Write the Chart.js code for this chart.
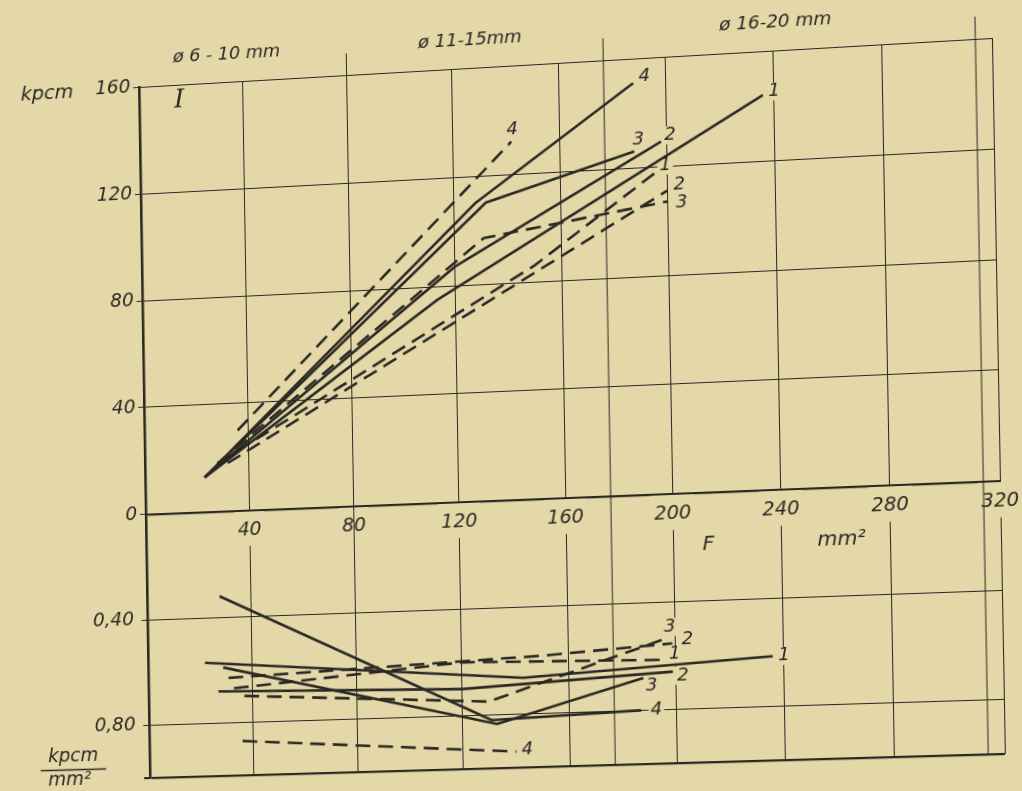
<!DOCTYPE html>
<html lang="de">
<head>
<meta charset="utf-8">
<title>kpcm - F</title>
<script src="https://cdn.jsdelivr.net/npm/chart.js@4.4.1/dist/chart.umd.min.js"></script>
<style>
  html, body { margin: 0; padding: 0; background: #e4d8a8; overflow: hidden; }
  #hoja { width: 1022px; height: 791px; transform-origin: 0 0; }
  canvas { display: block; }
</style>
</head>
<body>
<div id="hoja"><canvas id="grafica" width="1022" height="791"></canvas></div>
<script>
const fondo = "#e4d8a8";
const tinta = "#2a2823";
const fuente = '"DejaVu Sans", sans-serif';

// eje F (mm²)
const ticksF = [0, 40, 80, 120, 160, 200, 240, 280, 320];
const limitesDiametro = [80, 177, 314];
const textosDiametro = ["ø 6 - 10 mm", "ø 11-15mm", "ø 16-20 mm"];
const posDiametro = [34, 127, 241];

// panel superior: kpcm
const ticksKpcm = [0, 40, 80, 120, 160];
const sup1 = [[23, 13], [113, 75], [236, 144]];
const sup2 = [[23, 13], [120, 87], [198, 129]];
const sup3 = [[23, 13], [132, 110], [188, 126]];
const sup4 = [[23, 13], [128, 110], [188, 151]];
const sup1d = [[28, 18], [150, 86], [196, 118]];
const sup2d = [[32, 18], [200, 111]];
const sup3d = [[28, 18], [131, 97], [200, 107]];
const sup4d = [[36, 30], [142, 132]];

// panel inferior: kpcm/mm²
const ticksEsp = [0.4, 0.8, 1.0];
const inf1 = [[22, 0.57], [143, 0.665], [236, 0.615]];
const inf2 = [[27, 0.68], [120, 0.70], [199, 0.66]];
const inf3 = [[29, 0.59], [133, 0.835], [188, 0.68]];
const inf4 = [[28, 0.32], [131, 0.82], [187, 0.80]];
const inf1d = [[33, 0.67], [120, 0.60], [196, 0.615]];
const inf2d = [[31, 0.63], [150, 0.585], [199, 0.555]];
const inf3d = [[37, 0.70], [130, 0.75], [197, 0.535]];
const inf4d = [[36, 0.87], [140, 0.94]];

// la hoja de la foto esta torcida: esquinas del area del grafico (arriba izq, arriba der, abajo der, abajo izq)
const esquinasFoto = [[139, 87], [992, 38], [1005, 754], [150, 778]];

function serie(puntos, eje, discontinua, etiqueta, desplazamiento) {
    return {
        data: puntos.map(p => ({ x: p[0], y: p[1] })),
        yAxisID: eje,
        borderColor: tinta,
        borderWidth: 2.6,
        borderDash: discontinua ? [15, 8] : [],
        pointRadius: 0,
        tension: 0,
        fill: false,
        etiqueta: etiqueta,
        desplazamiento: desplazamiento
    };
}

const series = [
    serie(sup1, "y", false, "1", [11, -3]),
    serie(sup2, "y", false, "2", [9, -6]),
    serie(sup3, "y", false, "3", [4, -11]),
    serie(sup4, "y", false, "4", [11, -6]),
    serie(sup1d, "y", true, "1", [9, -6]),
    serie(sup2d, "y", true, "2", [12, -5]),
    serie(sup3d, "y", true, "3", [14, 2]),
    serie(sup4d, "y", true, "4", [1, -12]),
    serie(inf1, "y2", false, "1", [11, 0]),
    serie(inf2, "y2", false, "2", [10, 4]),
    serie(inf3, "y2", false, "3", [8, 8]),
    serie(inf4, "y2", false, "4", [15, 0]),
    serie(inf1d, "y2", true, "1", [10, -5]),
    serie(inf2d, "y2", true, "2", [15, -3]),
    serie(inf3d, "y2", true, "3", [3, -11]),
    serie(inf4d, "y2", true, "4", [11, -2])
];

function posEtiqueta(chart, i) {
    const ds = chart.data.datasets[i];
    const meta = chart.getDatasetMeta(i);
    const ult = meta.data[meta.data.length - 1];
    return { x: ult.x + ds.desplazamiento[0], y: ult.y + ds.desplazamiento[1] };
}

const anotaciones = {
    id: "anotaciones",
    beforeDatasetsDraw(chart) {
        const { ctx, chartArea, scales } = chart;
        ctx.save();
        ctx.strokeStyle = tinta;
        ctx.lineWidth = 1;
        limitesDiametro.forEach(f => {
            const px = scales.x.getPixelForValue(f);
            ctx.beginPath();
            ctx.moveTo(px, chartArea.top - 22);
            ctx.lineTo(px, chartArea.bottom);
            ctx.stroke();
        });
        // hueco en la cuadricula detras de los numeros
        ctx.font = `italic 18px ${fuente}`;
        ctx.fillStyle = fondo;
        chart.data.datasets.forEach((ds, i) => {
            const p = posEtiqueta(chart, i);
            const w = ctx.measureText(ds.etiqueta).width;
            ctx.fillRect(p.x - w / 2 - 2, p.y - 9, w + 4, 18);
        });
        ctx.restore();
    },
    afterDatasetsDraw(chart) {
        const { ctx, chartArea, scales } = chart;
        ctx.save();
        ctx.fillStyle = tinta;
        ctx.strokeStyle = tinta;
        ctx.textAlign = "center";
        ctx.textBaseline = "middle";
        ctx.font = `italic 18px ${fuente}`;
        chart.data.datasets.forEach((ds, i) => {
            const p = posEtiqueta(chart, i);
            ctx.fillText(ds.etiqueta, p.x, p.y);
        });

        textosDiametro.forEach((t, i) => {
            ctx.fillText(t, scales.x.getPixelForValue(posDiametro[i]), chartArea.top - 28);
        });

        const cero = scales.y.getPixelForValue(0);
        ctx.textBaseline = "alphabetic";
        ctx.font = `italic 20px ${fuente}`;
        ctx.fillText("F", scales.x.getPixelForValue(213), cero + 57);
        ctx.fillText("mm²", scales.x.getPixelForValue(262), cero + 57);

        ctx.font = `italic 26px "DejaVu Serif", serif`;
        ctx.textBaseline = "middle";
        ctx.fillText("I", scales.x.getPixelForValue(15.5), scales.y.getPixelForValue(154));

        ctx.font = `italic 20px ${fuente}`;
        ctx.textAlign = "right";
        ctx.fillText("kpcm", chartArea.left - 68, scales.y.getPixelForValue(160) + 2);

        // unidad del panel inferior
        const p08 = scales.y2.getPixelForValue(0.8);
        const cx = chartArea.left - 79;
        ctx.font = `italic 19px ${fuente}`;
        ctx.textAlign = "center";
        ctx.fillText("kpcm", cx, p08 + 30);
        ctx.lineWidth = 1.5;
        ctx.beginPath();
        ctx.moveTo(cx - 34, p08 + 43);
        ctx.lineTo(cx + 34, p08 + 43);
        ctx.stroke();
        ctx.fillText("mm²", cx - 4, p08 + 54);
        ctx.restore();
    }
};

const letra = { family: fuente, size: 19, style: "italic" };

const grafica = new Chart(document.getElementById("grafica"), {
    type: "line",
    data: { datasets: series },
    options: {
        responsive: false,
        animation: false,
        layout: { padding: { top: 66, right: 28, bottom: 21, left: 0 } },
        plugins: {
            legend: { display: false },
            tooltip: { enabled: false }
        },
        scales: {
            x: {
                type: "linear",
                position: { y: 0 },
                min: 0,
                max: 320,
                afterBuildTicks: s => { s.ticks = ticksF.map(v => ({ value: v })); },
                ticks: {
                    callback: v => v === 0 ? "" : v,
                    color: tinta,
                    font: letra,
                    padding: 9,
                    maxRotation: 0,
                    autoSkip: false,
                    showLabelBackdrop: true,
                    backdropColor: fondo,
                    backdropPadding: { top: 8, bottom: 4, left: 3, right: 3 }
                },
                grid: { color: tinta, lineWidth: 1, drawTicks: false },
                border: { color: tinta, width: 2.2 }
            },
            // el eje apilado que se declara primero queda abajo
            y2: {
                type: "linear",
                position: "left",
                stack: "paneles",
                stackWeight: 268,
                reverse: true,
                min: 0,
                max: 1,
                afterBuildTicks: s => { s.ticks = ticksEsp.map(v => ({ value: v })); },
                afterFit: s => { s.width = 144; },
                ticks: {
                    callback: v => v === 1 ? "" : v.toFixed(2).replace(".", ","),
                    color: tinta,
                    font: letra,
                    padding: 8
                },
                grid: {
                    color: tinta,
                    lineWidth: c => (c.tick && c.tick.value === 1) ? 2.2 : 1,
                    tickLength: 6
                },
                border: { color: tinta, width: 2.6 }
            },
            y: {
                type: "linear",
                position: "left",
                stack: "paneles",
                stackWeight: 436,
                min: 0,
                max: 160,
                afterBuildTicks: s => { s.ticks = ticksKpcm.map(v => ({ value: v })); },
                afterFit: s => { s.width = 144; },
                ticks: { color: tinta, font: letra, padding: 3 },
                grid: { color: tinta, lineWidth: 1, tickLength: 6 },
                border: { color: tinta, width: 2.6 }
            }
        }
    },
    plugins: [anotaciones]
});

// homografia del area del grafico hacia las esquinas de la foto
function homografia(origen, destino) {
    const A = [], b = [];
    for (let i = 0; i < 4; i++) {
        const [x, y] = origen[i], [u, v] = destino[i];
        A.push([x, y, 1, 0, 0, 0, -x * u, -y * u]); b.push(u);
        A.push([0, 0, 0, x, y, 1, -x * v, -y * v]); b.push(v);
    }
    for (let c = 0; c < 8; c++) {
        let p = c;
        for (let r = c + 1; r < 8; r++) if (Math.abs(A[r][c]) > Math.abs(A[p][c])) p = r;
        [A[c], A[p]] = [A[p], A[c]];
        [b[c], b[p]] = [b[p], b[c]];
        for (let r = 0; r < 8; r++) {
            if (r === c) continue;
            const f = A[r][c] / A[c][c];
            for (let k = c; k < 8; k++) A[r][k] -= f * A[c][k];
            b[r] -= f * b[c];
        }
    }
    return b.map((v, i) => v / A[i][i]);
}

const area = grafica.chartArea;
const h = homografia(
    [[area.left, area.top], [area.right, area.top], [area.right, area.bottom], [area.left, area.bottom]],
    esquinasFoto
);
document.getElementById("hoja").style.transform =
    `matrix3d(${h[0]},${h[3]},0,${h[6]},${h[1]},${h[4]},0,${h[7]},0,0,1,0,${h[2]},${h[5]},0,1)`;
</script>
</body>
</html>
